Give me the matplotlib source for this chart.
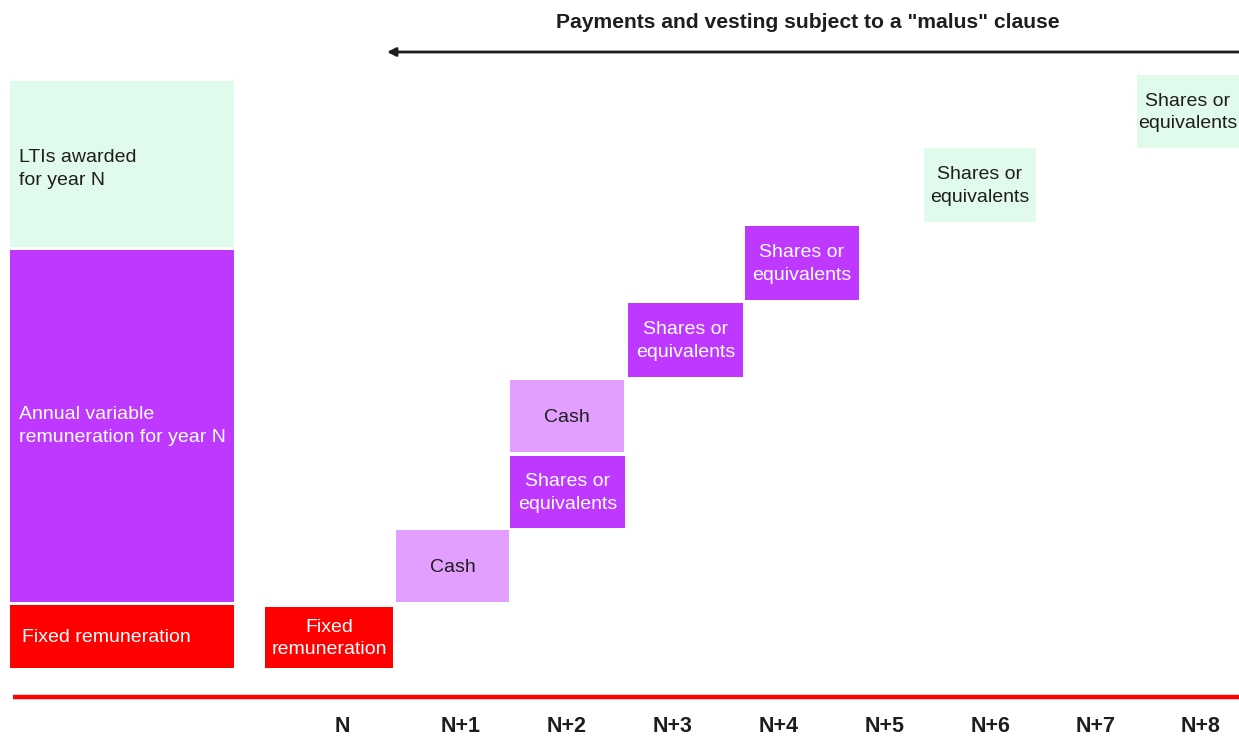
import matplotlib
matplotlib.use("Agg")
from matplotlib import pyplot as plt
from matplotlib.patches import Rectangle

plt.rcParams['font.family'] = ['Liberation Sans', 'DejaVu Sans']

# colours used in the diagram
GREEN = "#e0fbeb"
PURPLE = "#bf38ff"
LILAC = "#e39fff"
RED = "#ff0000"
TXT = "#1e1e1e"

title = 'Payments and vesting subject to a "malus" clause'
years = ["N", "N+1", "N+2", "N+3", "N+4", "N+5", "N+6", "N+7", "N+8"]
year_x = [342, 461, 567, 673, 779, 885, 991, 1096, 1201]

# left column: what is awarded for year N
award_labels = ["LTIs awarded\nfor year N",
                "Annual variable\nremuneration for year N",
                "Fixed remuneration"]
award_colors = [GREEN, PURPLE, RED]
award_text = [TXT, "white", "white"]
award_y0 = [81, 250, 605]
award_y1 = [247, 602, 668]
award_tx = [19, 19, 22]
award_ty = [169, 426, 637]

# right side: payments by year
pay_labels = ["Fixed\nremuneration", "Cash", "Shares or\nequivalents", "Cash",
              "Shares or\nequivalents", "Shares or\nequivalents",
              "Shares or\nequivalents", "Shares or\nequivalents"]
pay_colors = [RED, LILAC, PURPLE, LILAC, PURPLE, PURPLE, GREEN, GREEN]
pay_text = ["white", TXT, "white", TXT, "white", "white", TXT, TXT]
pay_x0 = [265, 396, 510, 510, 628, 745, 924, 1137]
pay_x1 = [393, 509, 625, 624, 743, 859, 1036, 1239]
pay_y0 = [607, 530, 456, 380, 303, 226, 148, 75]
pay_y1 = [668, 602, 528, 452, 377, 300, 222, 148]

fig = plt.figure(figsize=(12.39, 7.38), dpi=100)
ax = fig.add_axes([0, 0, 1, 1])
ax.set_xlim(0, 1239)
ax.set_ylim(738, 0)
ax.axis("off")

# left stacked column
for lab, c, tc, y0, y1, tx, ty in zip(award_labels, award_colors, award_text,
                                      award_y0, award_y1, award_tx, award_ty):
    ax.add_patch(Rectangle((10, y0), 224, y1 - y0, facecolor=c, edgecolor="none"))
    ax.text(tx, ty, lab, color=tc, fontsize=14, ha="left", va="center",
            linespacing=1.4)

# payment boxes
for lab, c, tc, x0, x1, y0, y1 in zip(pay_labels, pay_colors, pay_text,
                                      pay_x0, pay_x1, pay_y0, pay_y1):
    ax.add_patch(Rectangle((x0, y0), x1 - x0, y1 - y0, facecolor=c, edgecolor="none"))
    ax.text((x0 + x1) / 2, (y0 + y1) / 2 + 1, lab, color=tc, fontsize=14,
            ha="center", va="center", linespacing=1.4)

# baseline and year labels
ax.plot([13, 1239], [697, 697], color=RED, lw=3.2, solid_capstyle="butt")
for lab, x in zip(years, year_x):
    ax.text(x, 727, lab, fontsize=15.5, fontweight="bold", color=TXT,
            ha="center", va="center")

# malus arrow and title
ax.annotate("", xy=(387, 52), xytext=(1239, 52),
            arrowprops=dict(arrowstyle="-|>,head_length=0.5,head_width=0.25",
                            color="#1e1e1e", lw=2, shrinkA=0, shrinkB=0))
ax.text(808, 23, title, fontsize=15.2, fontweight="bold", color=TXT,
        ha="center", va="center")

fig.savefig("out.png", dpi=100)
